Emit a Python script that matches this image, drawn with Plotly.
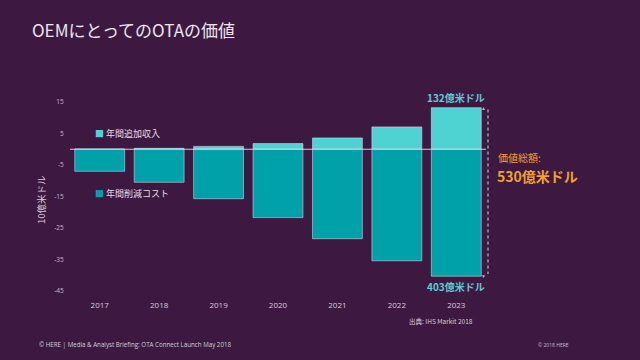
import plotly.graph_objects as go

years = ["2017", "2018", "2019", "2020", "2021", "2022", "2023"]
added_revenue = [0.1, 0.3, 0.9, 1.8, 3.6, 7.1, 13.2]
cost_reduction = [-7.0, -10.5, -15.7, -21.7, -28.4, -35.4, -40.3]
y_ticks = [15, 5, -5, -15, -25, -35, -45]

BG = "#3d1942"
POS = "#4fd2d2"
NEG = "#00a1a9"
ORANGE = "#f0a12e"
LABEL = "#62cad6"
JP = "Noto Sans CJK JP"

L, R, T, B = 70, 154, 102, 69
W, H = 640, 360
pw, ph = W - L - R, H - T - B

def px(x):
    return (x - L) / pw

def py(y):
    return (H - B - y) / ph

fig = go.Figure()
fig.add_trace(go.Bar(x=years, y=added_revenue, marker_color=POS, width=0.84,
                     name="年間追加収入", cliponaxis=False))
fig.add_trace(go.Bar(x=years, y=cost_reduction, marker_color=NEG, width=0.84,
                     name="年間削減コスト", cliponaxis=False))

fig.update_layout(
    width=W, height=H, barmode="overlay", showlegend=False,
    paper_bgcolor=BG, plot_bgcolor=BG,
    margin=dict(l=L, r=R, t=T, b=B),
    title=dict(text="OEMにとってのOTAの価値", x=32 / W, xanchor="left",
               y=1 - 31 / H, yanchor="middle",
               font=dict(family=JP, size=17, color="#ece4ee")),
    xaxis=dict(type="category", range=[-0.5, 6.5], showgrid=False, zeroline=False,
               showline=False,
               tickfont=dict(family="Open Sans", size=8, color="#d6ccd8"),
               ticks="outside", ticklen=6, tickcolor="rgba(0,0,0,0)"),
    yaxis=dict(range=[-45, 15], tickvals=y_ticks, ticktext=[str(v) for v in y_ticks],
               showgrid=False, zeroline=False, showline=False,
               tickfont=dict(family="Open Sans", size=6.5, color="#c8bccc"),
               ticks="outside", ticklen=4, tickcolor="rgba(0,0,0,0)"),
)

# baseline
fig.add_shape(type="line", xref="paper", yref="y", x0=0, x1=1, y0=0, y1=0,
              line=dict(color="#d9c9dc", width=1))
# dotted range line
xd = px(488)
fig.add_shape(type="line", xref="paper", yref="y", x0=xd, x1=xd, y0=12.6, y1=-39.6,
              line=dict(color="#a4bfd2", width=1.2, dash="dot"))

last = len(years) - 1
ann = []
ann.append(dict(x=xd, y=12.6, xref="paper", yref="y", text="▲", showarrow=False,
                font=dict(size=5, color="#a4bfd2"), yanchor="bottom", yshift=-3))
ann.append(dict(x=xd, y=-39.6, xref="paper", yref="y", text="▼", showarrow=False,
                font=dict(size=5, color="#a4bfd2"), yanchor="top", yshift=3))
ann.append(dict(x=last, y=added_revenue[last], xref="x", yref="y", text="<b>132億米ドル</b>",
                showarrow=False, yanchor="bottom", yshift=1,
                font=dict(family=JP, size=10, color=LABEL)))
ann.append(dict(x=last, y=cost_reduction[last], xref="x", yref="y", text="<b>403億米ドル</b>",
                showarrow=False, yanchor="top", yshift=-1,
                font=dict(family=JP, size=10, color=LABEL)))
ann.append(dict(x=px(496), y=py(157), xref="paper", yref="paper", text="価値総額:",
                showarrow=False, xanchor="left", yanchor="middle",
                font=dict(family=JP, size=10, color=ORANGE)))
ann.append(dict(x=px(495), y=py(176), xref="paper", yref="paper", text="<b>530億米ドル</b>",
                showarrow=False, xanchor="left", yanchor="middle",
                font=dict(family=JP, size=14, color=ORANGE)))
# legend-like labels
ann.append(dict(x=px(93), y=py(133), xref="paper", yref="paper",
                text="<span style='color:%s'>■</span> 年間追加収入" % POS,
                showarrow=False, xanchor="left", yanchor="middle",
                font=dict(family=JP, size=9, color="#e6dee8")))
ann.append(dict(x=px(93), y=py(193), xref="paper", yref="paper",
                text="<span style='color:%s'>■</span> 年間削減コスト" % NEG,
                showarrow=False, xanchor="left", yanchor="middle",
                font=dict(family=JP, size=9, color="#e6dee8")))
# y-axis title
ann.append(dict(x=px(41), y=py(200), xref="paper", yref="paper", text="10億米ドル",
                textangle=-90, showarrow=False, xanchor="center", yanchor="middle",
                font=dict(family=JP, size=9.5, color="#d6ccd8")))
# source and footer
ann.append(dict(x=px(475), y=py(321), xref="paper", yref="paper", text="出典: IHS Markit 2018",
                showarrow=False, xanchor="right", yanchor="middle",
                font=dict(family=JP, size=6.5, color="#d6ccd8")))
ann.append(dict(x=px(37), y=py(344), xref="paper", yref="paper",
                text="© HERE | Media & Analyst Briefing: OTA Connect Launch May 2018",
                showarrow=False, xanchor="left", yanchor="middle",
                font=dict(family="Open Sans", size=6.2, color="#d6ccd8")))
ann.append(dict(x=px(536), y=py(345), xref="paper", yref="paper", text="© 2018 HERE",
                showarrow=False, xanchor="left", yanchor="middle",
                font=dict(family="Open Sans", size=5, color="#c8bccc")))
fig.update_layout(annotations=ann)

fig.write_html("out.html", config={"displayModeBar": False},
               post_script="document.body.style.margin='0';"
                           "document.body.style.background='%s';" % BG)
